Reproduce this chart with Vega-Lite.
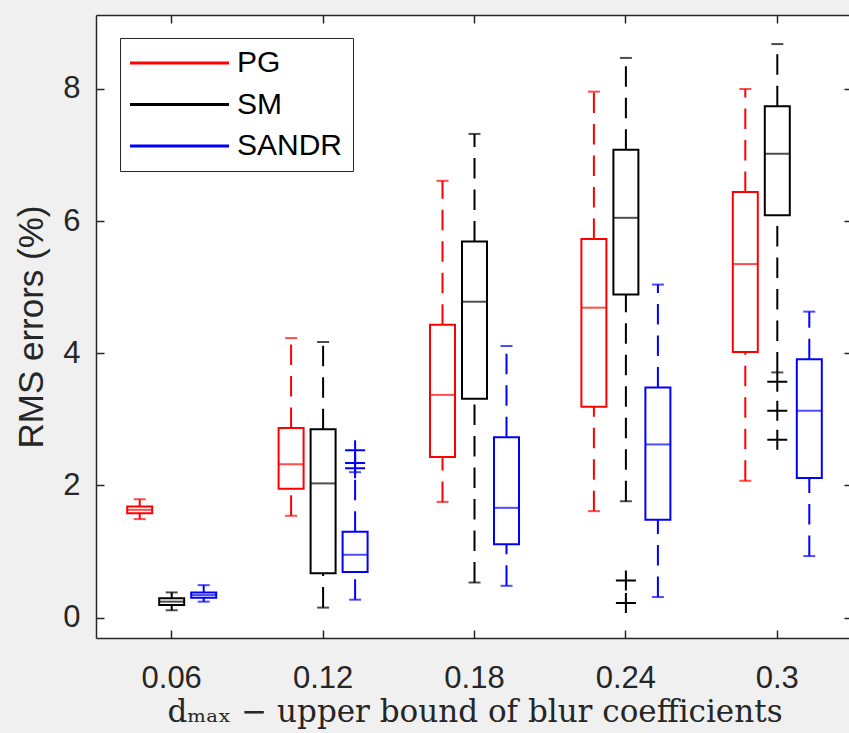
{
  "$schema": "https://vega.github.io/schema/vega-lite/v6.json",
  "width": 753,
  "height": 623,
  "autosize": {"type": "none"},
  "padding": {"left": 96, "top": 15, "right": 0, "bottom": 95},
  "background": "#f0f0f0",
  "config": {
    "view": {"stroke": null, "fill": "white"},
    "axis": {
      "grid": false,
      "labelFont": "Liberation Sans",
      "labelFontSize": 31,
      "labelColor": "#262626",
      "tickColor": "#262626",
      "domainColor": "#262626",
      "tickWidth": 1.5,
      "domainWidth": 1.5,
      "titleFontWeight": "normal",
      "titleColor": "#262626"
    }
  },
  "datasets": {
    "boxes": [
      {"d": "0.06", "method": "PG", "lo": 1.49, "q1": 1.58, "med": 1.63, "q3": 1.68, "hi": 1.79},
      {"d": "0.06", "method": "SM", "lo": 0.11, "q1": 0.19, "med": 0.24, "q3": 0.29, "hi": 0.38},
      {"d": "0.06", "method": "SANDR", "lo": 0.24, "q1": 0.30, "med": 0.34, "q3": 0.38, "hi": 0.49},
      {"d": "0.12", "method": "PG", "lo": 1.54, "q1": 1.95, "med": 2.32, "q3": 2.87, "hi": 4.23},
      {"d": "0.12", "method": "SM", "lo": 0.15, "q1": 0.67, "med": 2.03, "q3": 2.85, "hi": 4.17},
      {"d": "0.12", "method": "SANDR", "lo": 0.27, "q1": 0.69, "med": 0.95, "q3": 1.30, "hi": 2.20},
      {"d": "0.18", "method": "PG", "lo": 1.75, "q1": 2.43, "med": 3.37, "q3": 4.43, "hi": 6.61},
      {"d": "0.18", "method": "SM", "lo": 0.53, "q1": 3.31, "med": 4.78, "q3": 5.69, "hi": 7.32},
      {"d": "0.18", "method": "SANDR", "lo": 0.48, "q1": 1.11, "med": 1.66, "q3": 2.73, "hi": 4.11},
      {"d": "0.24", "method": "PG", "lo": 1.61, "q1": 3.19, "med": 4.69, "q3": 5.73, "hi": 7.96},
      {"d": "0.24", "method": "SM", "lo": 1.76, "q1": 4.89, "med": 6.05, "q3": 7.08, "hi": 8.47},
      {"d": "0.24", "method": "SANDR", "lo": 0.31, "q1": 1.48, "med": 2.62, "q3": 3.48, "hi": 5.04},
      {"d": "0.3", "method": "PG", "lo": 2.07, "q1": 4.02, "med": 5.35, "q3": 6.44, "hi": 8.00},
      {"d": "0.3", "method": "SM", "lo": 3.71, "q1": 6.09, "med": 7.02, "q3": 7.74, "hi": 8.68},
      {"d": "0.3", "method": "SANDR", "lo": 0.93, "q1": 2.11, "med": 3.13, "q3": 3.91, "hi": 4.63}
    ],
    "outliers": [
      {"d": "0.12", "method": "SANDR", "value": 2.26},
      {"d": "0.12", "method": "SANDR", "value": 2.34},
      {"d": "0.12", "method": "SANDR", "value": 2.53},
      {"d": "0.24", "method": "SM", "value": 0.56},
      {"d": "0.24", "method": "SM", "value": 0.22},
      {"d": "0.3", "method": "SM", "value": 3.57},
      {"d": "0.3", "method": "SM", "value": 3.13},
      {"d": "0.3", "method": "SM", "value": 2.69}
    ]
  },
  "resolve": {"axis": {"x": "independent", "y": "independent"}},
  "layer": [
    {
      "data": {"name": "boxes"},
      "mark": {"type": "bar", "filled": false, "strokeWidth": 2},
      "encoding": {
        "x": {
          "field": "d", "type": "nominal",
          "scale": {"domain": ["0.06", "0.12", "0.18", "0.24", "0.3"], "range": [0, 757], "paddingInner": 0, "paddingOuter": 0},
          "axis": {
            "orient": "bottom", "labelAngle": 0, "tickSize": -8, "labelPadding": 33,
            "title": "dₘₐₓ  − upper bound of blur coefficients",
            "titleFont": "DejaVu Serif", "titleFontSize": 31, "titlePadding": 4
          }
        },
        "xOffset": {
          "field": "method", "type": "nominal",
          "scale": {"domain": ["PG", "SM", "SANDR"], "paddingInner": 0.219, "paddingOuter": 0.975}
        },
        "y": {
          "field": "q1", "type": "quantitative",
          "scale": {"domain": [-0.31, 9.12], "nice": false, "zero": false},
          "axis": {
            "orient": "left", "values": [0, 2, 4, 6, 8], "tickSize": -8, "labelPadding": 24,
            "title": "RMS errors (%)", "titleFont": "Liberation Sans", "titleFontSize": 35, "titlePadding": 13
          }
        },
        "y2": {"field": "q3"},
        "color": {
          "field": "method", "type": "nominal",
          "scale": {"domain": ["PG", "SM", "SANDR"], "range": ["#ff0000", "#000000", "#0000ff"]},
          "legend": {
            "orient": "none", "legendX": 24, "legendY": 23, "title": null, "direction": "vertical",
            "padding": 10, "rowPadding": 11.5, "labelFontSize": 30, "labelFont": "Liberation Sans",
            "labelColor": "#000000", "symbolType": "M-1,0H10", "symbolSize": 324, "symbolStrokeWidth": 3,
            "symbolOffset": -6, "labelOffset": 83, "strokeColor": "#262626", "fillColor": "white", "cornerRadius": 0
          }
        }
      }
    },
    {
      "data": {"name": "boxes"},
      "mark": {"type": "rule", "strokeWidth": 2, "strokeDash": [20.5, 11]},
      "encoding": {
        "x": {"field": "d", "type": "nominal", "axis": {"orient": "top", "labels": false, "tickSize": -8, "title": null}},
        "xOffset": {"field": "method", "type": "nominal"},
        "y": {"field": "q3", "type": "quantitative", "axis": {"orient": "right", "labels": false, "values": [0, 2, 4, 6, 8], "tickSize": -5, "domain": false, "title": null}},
        "y2": {"field": "hi"},
        "color": {"field": "method", "type": "nominal"}
      }
    },
    {
      "data": {"name": "boxes"},
      "mark": {"type": "rule", "strokeWidth": 2, "strokeDash": [20.5, 11]},
      "encoding": {
        "x": {"field": "d", "type": "nominal", "axis": null},
        "xOffset": {"field": "method", "type": "nominal"},
        "y": {"field": "lo", "type": "quantitative", "axis": null},
        "y2": {"field": "q1"},
        "color": {"field": "method", "type": "nominal"}
      }
    },
    {
      "data": {"name": "boxes"},
      "mark": {"type": "tick", "size": 25, "thickness": 2},
      "encoding": {
        "x": {"field": "d", "type": "nominal", "axis": null},
        "xOffset": {"field": "method", "type": "nominal"},
        "y": {"field": "med", "type": "quantitative", "axis": null},
        "color": {"field": "method", "type": "nominal"}
      }
    },
    {
      "data": {"name": "boxes"},
      "mark": {"type": "tick", "size": 12, "thickness": 2},
      "encoding": {
        "x": {"field": "d", "type": "nominal", "axis": null},
        "xOffset": {"field": "method", "type": "nominal"},
        "y": {"field": "hi", "type": "quantitative", "axis": null},
        "color": {"field": "method", "type": "nominal"}
      }
    },
    {
      "data": {"name": "boxes"},
      "mark": {"type": "tick", "size": 12, "thickness": 2},
      "encoding": {
        "x": {"field": "d", "type": "nominal", "axis": null},
        "xOffset": {"field": "method", "type": "nominal"},
        "y": {"field": "lo", "type": "quantitative", "axis": null},
        "color": {"field": "method", "type": "nominal"}
      }
    },
    {
      "data": {"name": "outliers"},
      "mark": {"type": "point", "shape": "M-1,0H1M0,-1V1", "size": 400, "filled": false, "strokeWidth": 2, "opacity": 1},
      "encoding": {
        "x": {"field": "d", "type": "nominal", "axis": null},
        "xOffset": {"field": "method", "type": "nominal"},
        "y": {"field": "value", "type": "quantitative", "axis": null},
        "color": {"field": "method", "type": "nominal"}
      }
    }
  ]
}
